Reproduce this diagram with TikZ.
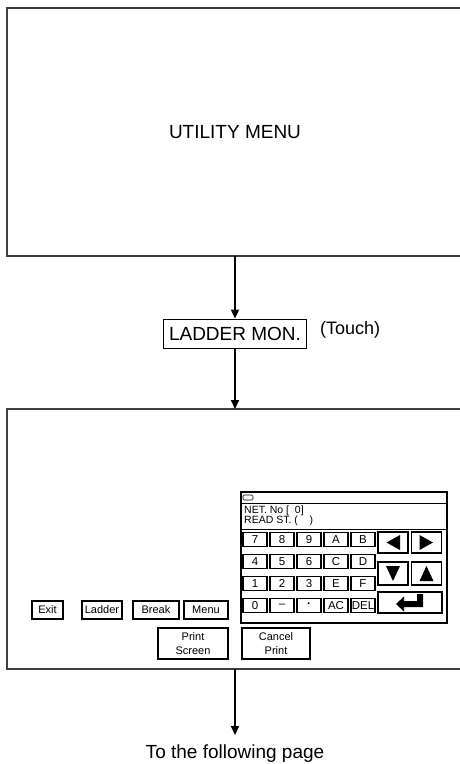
\documentclass[tikz,border=0pt]{standalone}
\usepackage{fontspec}
\setmainfont{Liberation Sans}
\usetikzlibrary{arrows.meta}
\begin{document}
\begin{tikzpicture}[x=1pt,y=-1pt,
  frame/.style={draw=black!75, line width=1.5pt},
  btn/.style={draw, line width=1.9pt, inner sep=0pt, font=\fontsize{11}{13.5}\selectfont, align=center},
  kbtn/.style={btn, minimum width=24pt, minimum height=14pt, font=\fontsize{11.5}{13}\selectfont},
  abtn/.style={btn, minimum width=30pt, minimum height=22pt},
  mbtn/.style={btn, minimum height=18pt},
  pbtn/.style={btn, minimum height=31pt},
  conn/.style={line width=2pt, -{Triangle[length=9pt,width=8pt]}},
  big/.style={font=\fontsize{19}{22}\selectfont},
  tri/.style={fill=black}
]
\useasboundingbox (0,0) rectangle (459,764);

% top frame
\draw[frame] (475,8) -- (7,8) -- (7,256) -- (475,256);
\node[big] (util) at (235,132) {UTILITY MENU};
\coordinate (f1b) at (235,256);

\node[draw, line width=0.9pt, big, inner sep=0pt, minimum width=143pt, minimum height=29pt] (lad) at (235,333.5) {LADDER MON.};
\node[font=\fontsize{18}{20}\selectfont, anchor=west, inner sep=0pt] (touch) at (320,330) {(Touch)};
\draw[conn] (f1b) -- (lad.north);

% bottom frame
\draw[frame] (475,409) -- (7,409) -- (7,669) -- (475,669);
\coordinate (f2t) at (235,409);
\coordinate (f2b) at (235,669);
\draw[conn] (lad.south) -- (f2t);

\node[big, anchor=north, inner xsep=0pt, inner ysep=10pt] (next) at (235,735) {To the following page};
\draw[conn] (f2b) -- (next.north);

% left buttons
\node[mbtn, minimum width=31pt] (exit) at (47.5,610) {Exit};
\node[mbtn, minimum width=40pt] (ladder) at (102,610) {Ladder};
\node[mbtn, minimum width=46pt] (break) at (156,610) {Break};
\node[mbtn, minimum width=44pt] (menu) at (206,610) {Menu};
\node[pbtn, minimum width=70pt] (prs) at (193,643.5) {Print\\Screen};
\node[pbtn, minimum width=68pt] (cpr) at (276,643.5) {Cancel\\Print};

% keypad panel
\node[draw, line width=1.9pt, minimum width=206pt, minimum height=131pt, inner sep=0pt] (pad) at (344,557.5) {};
\draw[line width=1pt] (241,503) -- (447,503);
\draw[line width=1pt] (241,529) -- (447,529);
\draw[line width=0.6pt, rounded corners=1.2pt] (243,495) rectangle (253,500);
\node[anchor=west, font=\fontsize{10.5}{12}\selectfont, inner sep=0pt] (net) at (244,511) {NET. No [\ \ 0]};
\node[anchor=west, font=\fontsize{10.5}{12}\selectfont, inner sep=0pt] (rst) at (244,521) {READ ST. (\ \ \ \ )};

% number keys
\node[kbtn] (k7) at (255,539.5) {7};
\node[kbtn] (k8) at (282,539.5) {8};
\node[kbtn] (k9) at (309,539.5) {9};
\node[kbtn] (kA) at (336,539.5) {A};
\node[kbtn] (kB) at (363,539.5) {B};
\node[kbtn] (k4) at (255,561.5) {4};
\node[kbtn] (k5) at (282,561.5) {5};
\node[kbtn] (k6) at (309,561.5) {6};
\node[kbtn] (kC) at (336,561.5) {C};
\node[kbtn] (kD) at (363,561.5) {D};
\node[kbtn] (k1) at (255,583.5) {1};
\node[kbtn] (k2) at (282,583.5) {2};
\node[kbtn] (k3) at (309,583.5) {3};
\node[kbtn] (kE) at (336,583.5) {E};
\node[kbtn] (kF) at (363,583.5) {F};
\node[kbtn] (k0) at (255,605.5) {0};
\node[kbtn] (kdash) at (282,605.5) {\raisebox{-2.5pt}{–}};
\node[kbtn] (kdot) at (309,605.5) {\textbf{·}};
\node[kbtn] (kAC) at (336,605.5) {AC};
\node[kbtn] (kDEL) at (363,605.5) {DEL};

% arrow keys
\node[abtn, minimum height=21pt] (kl) at (393,542.5) {};
\node[abtn, minimum height=21pt] (kr) at (426.5,542.5) {};
\node[abtn, minimum height=23pt] (kd) at (393,573.5) {};
\node[abtn, minimum height=23pt] (ku) at (426.5,573.5) {};
\node[btn, minimum width=64pt, minimum height=21pt] (ke) at (410,602.5) {};

\fill[tri] (386.5,542.5) -- (400,535) -- (400,550) -- cycle;
\fill[tri] (433,542.5) -- (419.5,535) -- (419.5,550) -- cycle;
\fill[tri] (393,581) -- (386,566) -- (400,566) -- cycle;
\fill[tri] (426.5,566) -- (419.5,581) -- (433.5,581) -- cycle;
% enter symbol
\fill[tri] (396,604) -- (404,596.5) -- (404,601) -- (417,601) -- (417,594) -- (423,594) -- (423,607) -- (404,607) -- (404,611.5) -- cycle;
\end{tikzpicture}
\end{document}
